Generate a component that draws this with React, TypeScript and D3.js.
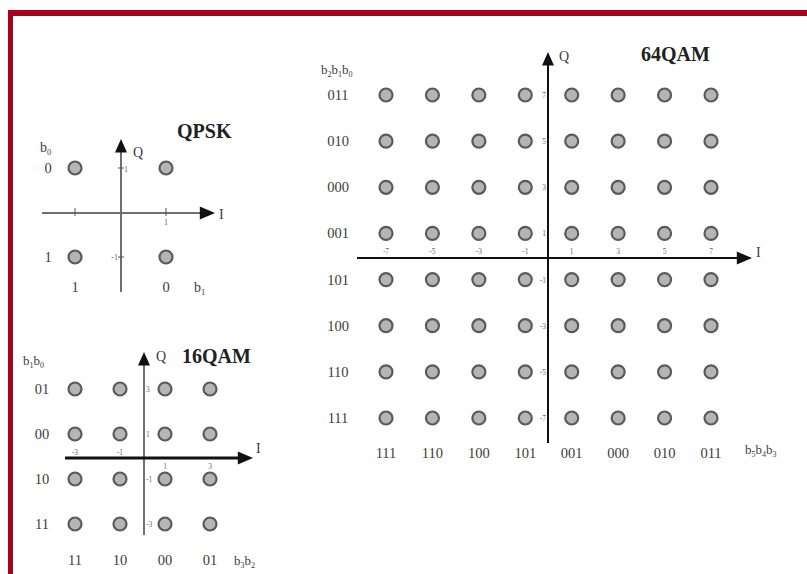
import React from "react";
import * as d3 from "d3";

const qpskLevels = [-1, 1];
const qam16Levels = [-3, -1, 1, 3];
const qam64Levels = [-7, -5, -3, -1, 1, 3, 5, 7];

const qpskColBits = ["1", "0"];
const qpskRowBits = ["0", "1"];
const qam16ColBits = ["11", "10", "00", "01"];
const qam16RowBits = ["01", "00", "10", "11"];
const qam64ColBits = ["111", "110", "100", "101", "001", "000", "010", "011"];
const qam64RowBits = ["011", "010", "000", "001", "101", "100", "110", "111"];

const SERIF = "'Liberation Serif', 'DejaVu Serif', serif";
const TXT = "#3c3c3c";
const LBL = 14.5;

type Sub = { base: string; sub: string }[];

function SubText({ x, y, parts, size, anchor = "start" }: { x: number; y: number; parts: Sub; size: number; anchor?: string }) {
  return (
    <text x={x} y={y} fontFamily={SERIF} fontSize={size} style={{ fill: TXT }} textAnchor={anchor as any}>
      {parts.map((p, i) => (
        <React.Fragment key={i}>
          <tspan dy={i === 0 ? 0 : -3}>{p.base}</tspan>
          <tspan fontSize={size * 0.62} dy={3}>{p.sub}</tspan>
        </React.Fragment>
      ))}
    </text>
  );
}

function T(props: any) {
  const { children, size = LBL, color = TXT, weight = "normal", anchor = "start", ...rest } = props;
  return (
    <text {...rest} fontFamily={SERIF} fontSize={size} fontWeight={weight} textAnchor={anchor} style={{ fill: color }}>
      {children}
    </text>
  );
}

function Dot({ cx, cy }: { cx: number; cy: number }) {
  return <circle cx={cx} cy={cy} r={6.5} fill="#b5b5b5" stroke="#5a5a5a" strokeWidth={2.2} />;
}

function Arrow({ x, y, dir, size = 9 }: { x: number; y: number; dir: "up" | "right"; size?: number }) {
  const pts =
    dir === "up"
      ? [[x, y], [x - size * 0.75, y + size * 1.7], [x + size * 0.75, y + size * 1.7]]
      : [[x, y], [x - size * 1.9, y - size * 0.8], [x - size * 1.9, y + size * 0.8]];
  return <polygon points={pts.map((p) => p.join(",")).join(" ")} fill="#111" />;
}

export default function App() {
  const qx = d3.scaleLinear().domain([-1, 1]).range([75, 166]);
  const qy = d3.scaleLinear().domain([-1, 1]).range([257, 168]);
  const sx = d3.scaleLinear().domain([-3, 3]).range([75, 210]);
  const sy = d3.scaleLinear().domain([-3, 3]).range([524, 389]);
  const bx = d3.scaleLinear().domain([-7, 7]).range([386, 711]);
  const by = d3.scaleLinear().domain([-7, 7]).range([418, 95]);

  const qAxisX = 121, qAxisY = 213;
  const sAxisX = 144, sAxisY = 458;
  const bAxisX = 548, bAxisY = 258;

  return (
    <svg width={807} height={574} style={{ position: "absolute", left: 0, top: 0, background: "#fff" }}>
      <rect x={0} y={0} width={807} height={574} fill="#fff" />
      <rect x={8} y={10} width={799} height={6} fill="#a8001f" />
      <rect x={8} y={10} width={5} height={564} fill="#a8001f" />

      {/* ===== QPSK ===== */}
      <line x1={42} y1={qAxisY} x2={202} y2={qAxisY} stroke="#6e6e6e" strokeWidth={2} />
      <Arrow x={215} y={qAxisY} dir="right" size={8} />
      <line x1={qAxisX} y1={152} x2={qAxisX} y2={292} stroke="#6e6e6e" strokeWidth={2} />
      <Arrow x={qAxisX} y={139} dir="up" size={8} />
      {qpskLevels.map((v) => (
        <line key={"qti" + v} x1={qx(v)} y1={qAxisY - 5} x2={qx(v)} y2={qAxisY + 3} stroke="#555" strokeWidth={1} />
      ))}
      {qpskLevels.map((v) => (
        <line key={"qtq" + v} x1={qAxisX - 3} y1={qy(v)} x2={qAxisX + 3} y2={qy(v)} stroke="#555" strokeWidth={1} />
      ))}
      <T x={qx(1)} y={qAxisY + 12} size={8} color="#666" anchor="middle">1</T>
      <T x={qAxisX + 3} y={qy(1) + 4} size={8} color="#666">1</T>
      <T x={qAxisX - 3} y={qy(-1) + 3} size={8} color="#666" anchor="end">-1</T>
      {qpskLevels.map((i) => qpskLevels.map((q) => <Dot key={`q${i}${q}`} cx={qx(i)} cy={qy(q)} />))}
      {[1, -1].map((q, k) => (
        <T key={"qr" + q} x={48} y={qy(q) + 5} anchor="middle">{qpskRowBits[k]}</T>
      ))}
      {qpskLevels.map((v, k) => (
        <T key={"qc" + v} x={qx(v)} y={292} anchor="middle">{qpskColBits[k]}</T>
      ))}
      <SubText x={40} y={152} size={14} parts={[{ base: "b", sub: "0" }]} />
      <SubText x={194} y={292} size={14} parts={[{ base: "b", sub: "1" }]} />
      <T x={133} y={157} size={14}>Q</T>
      <T x={219} y={219} size={14}>I</T>
      <T x={177} y={138} size={20} weight="bold" color="#222">QPSK</T>

      {/* ===== 16QAM ===== */}
      <line x1={sAxisX} y1={362} x2={sAxisX} y2={535} stroke="#707070" strokeWidth={2} />
      <Arrow x={sAxisX} y={352} dir="up" size={8} />
      <line x1={65} y1={sAxisY} x2={238} y2={sAxisY} stroke="#111" strokeWidth={3} />
      <Arrow x={253} y={sAxisY} dir="right" size={8} />
      {qam16Levels.map((v) => (
        <T key={"sti" + v} x={sx(v)} y={v < 0 ? sAxisY - 3 : sAxisY + 11} size={7.5} color="#666" anchor="middle">{v}</T>
      ))}
      {qam16Levels.map((v) => (
        <T key={"stq" + v} x={sAxisX + 2} y={sy(v) + 3} size={7.5} color="#666">{v}</T>
      ))}
      {qam16Levels.map((i) => qam16Levels.map((q) => <Dot key={`s${i}${q}`} cx={sx(i)} cy={sy(q)} />))}
      {[3, 1, -1, -3].map((q, k) => (
        <T key={"sr" + q} x={42} y={sy(q) + 5} anchor="middle">{qam16RowBits[k]}</T>
      ))}
      {qam16Levels.map((v, k) => (
        <T key={"sc" + v} x={sx(v)} y={565} anchor="middle">{qam16ColBits[k]}</T>
      ))}
      <SubText x={23} y={365} size={13} parts={[{ base: "b", sub: "1" }, { base: "b", sub: "0" }]} />
      <SubText x={234} y={565} size={13} parts={[{ base: "b", sub: "3" }, { base: "b", sub: "2" }]} />
      <T x={156} y={361} size={14}>Q</T>
      <T x={256} y={453} size={14}>I</T>
      <T x={182} y={363} size={20} weight="bold" color="#222">16QAM</T>

      {/* ===== 64QAM ===== */}
      <line x1={bAxisX} y1={64} x2={bAxisX} y2={443} stroke="#111" strokeWidth={2} />
      <Arrow x={bAxisX} y={52} dir="up" size={8} />
      <line x1={357} y1={bAxisY} x2={738} y2={bAxisY} stroke="#111" strokeWidth={2} />
      <Arrow x={752} y={bAxisY} dir="right" size={8} />
      {qam64Levels.map((v) => (
        <T key={"bti" + v} x={bx(v)} y={bAxisY - 4} size={7.5} color="#666" anchor="middle">{v}</T>
      ))}
      {qam64Levels.map((v) => (
        <T key={"btq" + v} x={bAxisX - 2} y={by(v) + 3} size={7.5} color="#666" anchor="end">{v}</T>
      ))}
      {qam64Levels.map((i) => qam64Levels.map((q) => <Dot key={`b${i}${q}`} cx={bx(i)} cy={by(q)} />))}
      {[7, 5, 3, 1, -1, -3, -5, -7].map((q, k) => (
        <T key={"br" + q} x={338} y={by(q) + 5} anchor="middle">{qam64RowBits[k]}</T>
      ))}
      {qam64Levels.map((v, k) => (
        <T key={"bc" + v} x={bx(v)} y={458} anchor="middle">{qam64ColBits[k]}</T>
      ))}
      <SubText x={321} y={74} size={13} parts={[{ base: "b", sub: "2" }, { base: "b", sub: "1" }, { base: "b", sub: "0" }]} />
      <SubText x={745} y={454} size={13} parts={[{ base: "b", sub: "5" }, { base: "b", sub: "4" }, { base: "b", sub: "3" }]} />
      <T x={559} y={61} size={14}>Q</T>
      <T x={756} y={257} size={14}>I</T>
      <T x={641} y={61} size={20} weight="bold" color="#222">64QAM</T>
    </svg>
  );
}
